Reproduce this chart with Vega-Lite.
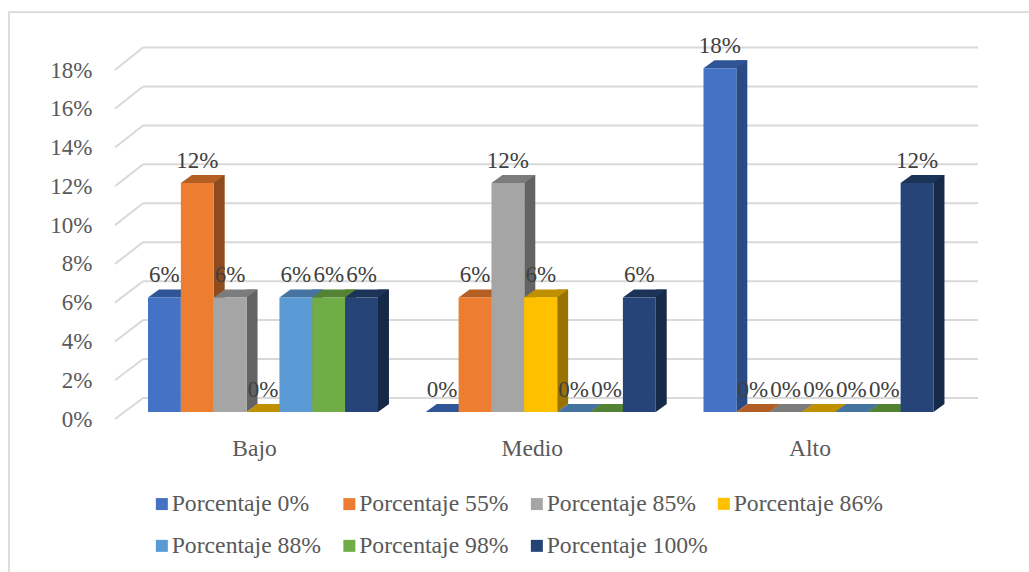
{
"$schema":"https://vega.github.io/schema/vega-lite/v6.json",
"autosize":{"type":"none"},
"padding":{"left":9,"top":12,"right":-5,"bottom":-5},
"width":1025,"height":565,
"background":"white",
"config":{"font":"Liberation Serif","view":{"stroke":"#D9D9D9","strokeWidth":1.75}},
"data":{"values":[
{"nivel":"Bajo","serie":"Porcentaje 0%","valor":0.0588},
{"nivel":"Bajo","serie":"Porcentaje 55%","valor":0.1176},
{"nivel":"Bajo","serie":"Porcentaje 85%","valor":0.0588},
{"nivel":"Bajo","serie":"Porcentaje 86%","valor":0},
{"nivel":"Bajo","serie":"Porcentaje 88%","valor":0.0588},
{"nivel":"Bajo","serie":"Porcentaje 98%","valor":0.0588},
{"nivel":"Bajo","serie":"Porcentaje 100%","valor":0.0588},
{"nivel":"Medio","serie":"Porcentaje 0%","valor":0},
{"nivel":"Medio","serie":"Porcentaje 55%","valor":0.0588},
{"nivel":"Medio","serie":"Porcentaje 85%","valor":0.1176},
{"nivel":"Medio","serie":"Porcentaje 86%","valor":0.0588},
{"nivel":"Medio","serie":"Porcentaje 88%","valor":0},
{"nivel":"Medio","serie":"Porcentaje 98%","valor":0},
{"nivel":"Medio","serie":"Porcentaje 100%","valor":0.0588},
{"nivel":"Alto","serie":"Porcentaje 0%","valor":0.1765},
{"nivel":"Alto","serie":"Porcentaje 55%","valor":0},
{"nivel":"Alto","serie":"Porcentaje 85%","valor":0},
{"nivel":"Alto","serie":"Porcentaje 86%","valor":0},
{"nivel":"Alto","serie":"Porcentaje 88%","valor":0},
{"nivel":"Alto","serie":"Porcentaje 98%","valor":0},
{"nivel":"Alto","serie":"Porcentaje 100%","valor":0.1176}
]},
"layer":[
{"data":{"values":[
{"nivel":0,"fondo":0.01083},{"nivel":0.02,"fondo":0.03091},{"nivel":0.04,"fondo":0.051},{"nivel":0.06,"fondo":0.07108},{"nivel":0.08,"fondo":0.09116},{"nivel":0.1,"fondo":0.11124},{"nivel":0.12,"fondo":0.13133},{"nivel":0.14,"fondo":0.15141},{"nivel":0.16,"fondo":0.17149},{"nivel":0.18,"fondo":0.19157}
]},
"layer":[
{"mark":{"type":"rule","color":"#D9D9D9","strokeWidth":2},
"encoding":{
"x":{"datum":-0.5329,"type":"quantitative","scale":{"domain":[-0.9145,2.7399],"range":[0,1015]},"axis":null},
"x2":{"datum":-0.432},
"y":{"field":"nivel","type":"quantitative","scale":{"domain":[0,0.18],"range":[407,58]},
"axis":{"title":null,"orient":"left","values":[0,0.02,0.04,0.06,0.08,0.1,0.12,0.14,0.16,0.18],"format":".0%","domain":false,"ticks":false,"grid":false,"offset":-83,"labelPadding":0,"labelFont":"Liberation Serif","labelFontSize":23,"labelColor":"#595959"}},
"y2":{"field":"fondo"}
}},
{"mark":{"type":"rule","color":"#D9D9D9","strokeWidth":2},
"encoding":{
"x":{"datum":-0.432,"type":"quantitative","scale":{"domain":[-0.9145,2.7399],"range":[0,1015]},"axis":null},
"x2":{"datum":2.5743},
"y":{"field":"fondo","type":"quantitative","scale":{"domain":[0,0.18],"range":[407,58]}}
}}
]},
{"layer":[
{"mark":{"type":"bar","width":11},
"encoding":{
"x":{"field":"nivel","type":"nominal","sort":["Bajo","Medio","Alto"],"scale":{"type":"band","domain":["Bajo","Medio","Alto"],"range":[139,924.5],"paddingInner":0.1719,"paddingOuter":0},
"axis":{"title":null,"orient":"bottom","offset":-141,"domain":false,"ticks":false,"grid":false,"labelAngle":0,"labelOffset":-8.5,"labelFont":"Liberation Serif","labelFontSize":23.5,"labelColor":"#595959","labelPadding":0}},
"xOffset":{"field":"serie","type":"nominal","sort":null,"scale":{"type":"band","domain":["Porcentaje 0%","Porcentaje 55%","Porcentaje 85%","Porcentaje 86%","Porcentaje 88%","Porcentaje 98%","Porcentaje 100%"],"range":[21.9,251.9],"paddingInner":0,"paddingOuter":0}},
"y":{"field":"valor","type":"quantitative","scale":{"domain":[0,0.18],"range":[392,41.5]},"axis":null},
"color":{"field":"serie","type":"nominal","legend":null,"scale":{"domain":["Porcentaje 0%","Porcentaje 55%","Porcentaje 85%","Porcentaje 86%","Porcentaje 88%","Porcentaje 98%","Porcentaje 100%"],"range":["#294A82","#8E4B1D","#636363","#997300","#37638A","#43682B","#172949"]}}
}},
{"mark":{"type":"point","filled":true,"opacity":1,"size":4,"strokeWidth":0,"shape":"M16.43 0 L16.43 -8 L27.43 -8 Z"},
"encoding":{
"x":{"field":"nivel","type":"nominal","sort":["Bajo","Medio","Alto"]},
"xOffset":{"field":"serie","type":"nominal","sort":null,"scale":{"type":"band","domain":["Porcentaje 0%","Porcentaje 55%","Porcentaje 85%","Porcentaje 86%","Porcentaje 88%","Porcentaje 98%","Porcentaje 100%"],"range":[0,230],"paddingInner":0,"paddingOuter":0}},
"y":{"datum":0,"type":"quantitative","scale":{"domain":[0,0.18],"range":[400,49.5]},"axis":null},
"color":{"field":"serie","type":"nominal","legend":null,"scale":{"domain":["Porcentaje 0%","Porcentaje 55%","Porcentaje 85%","Porcentaje 86%","Porcentaje 88%","Porcentaje 98%","Porcentaje 100%"],"range":["#294A82","#8E4B1D","#636363","#997300","#37638A","#43682B","#172949"]}}
}},
{"mark":{"type":"point","filled":true,"opacity":1,"size":4,"strokeWidth":0,"shape":"M-16.43 0 L-5.43 -8 L27.43 -8 L16.43 0 Z"},
"encoding":{
"x":{"field":"nivel","type":"nominal","sort":["Bajo","Medio","Alto"]},
"xOffset":{"field":"serie","type":"nominal","sort":null,"scale":{"type":"band","domain":["Porcentaje 0%","Porcentaje 55%","Porcentaje 85%","Porcentaje 86%","Porcentaje 88%","Porcentaje 98%","Porcentaje 100%"],"range":[0,230],"paddingInner":0,"paddingOuter":0}},
"y":{"field":"valor","type":"quantitative","scale":{"domain":[0,0.18],"range":[400,49.5]},"axis":null},
"color":{"field":"serie","type":"nominal","legend":null,"scale":{"domain":["Porcentaje 0%","Porcentaje 55%","Porcentaje 85%","Porcentaje 86%","Porcentaje 88%","Porcentaje 98%","Porcentaje 100%"],"range":["#2F5597","#B35E24","#7C7C7C","#BF9000","#44749F","#548235","#1C3358"]}}
}},
{"mark":{"type":"bar"},
"encoding":{
"x":{"field":"nivel","type":"nominal","sort":["Bajo","Medio","Alto"]},
"xOffset":{"field":"serie","type":"nominal","sort":null,"scale":{"type":"band","domain":["Porcentaje 0%","Porcentaje 55%","Porcentaje 85%","Porcentaje 86%","Porcentaje 88%","Porcentaje 98%","Porcentaje 100%"],"range":[0,230],"paddingInner":0,"paddingOuter":0}},
"y":{"field":"valor","type":"quantitative","scale":{"domain":[0,0.18],"range":[400,49.5]},"axis":null},
"color":{"field":"serie","type":"nominal","title":null,"scale":{"domain":["Porcentaje 0%","Porcentaje 55%","Porcentaje 85%","Porcentaje 86%","Porcentaje 88%","Porcentaje 98%","Porcentaje 100%"],"range":["#4472C4","#ED7D31","#A5A5A5","#FFC000","#5B9BD5","#70AD47","#264478"]},
"legend":{"orient":"none","legendX":141,"legendY":480,"columns":3,"direction":"horizontal","values":["Porcentaje 0%","Porcentaje 55%","Porcentaje 85%","Porcentaje 88%","Porcentaje 98%","Porcentaje 100%"],"symbolType":"square","symbolSize":144,"symbolStrokeWidth":0,"labelOffset":-2,"labelFont":"Liberation Serif","labelFontSize":23.7,"labelColor":"#595959","labelLimit":300,"columnPadding":4.5,"rowPadding":17,"gridAlign":"all","padding":0}}
}},
{"transform":[{"filter":"datum.serie === 'Porcentaje 86%'"}],
"mark":{"type":"bar"},
"encoding":{
"x":{"field":"nivel","type":"nominal","sort":["Bajo","Medio","Alto"]},
"xOffset":{"field":"serie","type":"nominal","sort":null,"scale":{"type":"band","domain":["Porcentaje 0%","Porcentaje 55%","Porcentaje 85%","Porcentaje 86%","Porcentaje 88%","Porcentaje 98%","Porcentaje 100%"],"range":[0,230],"paddingInner":0,"paddingOuter":0}},
"y":{"field":"valor","type":"quantitative","scale":{"domain":[0,0.18],"range":[400,49.5]},"axis":null},
"color":{"field":"serie","type":"nominal","title":null,"scale":{"domain":["Porcentaje 0%","Porcentaje 55%","Porcentaje 85%","Porcentaje 86%","Porcentaje 88%","Porcentaje 98%","Porcentaje 100%"],"range":["#4472C4","#ED7D31","#A5A5A5","#FFC000","#5B9BD5","#70AD47","#264478"]},
"legend":{"orient":"none","legendX":703,"legendY":480,"values":["Porcentaje 86%"],"symbolType":"square","symbolSize":144,"symbolStrokeWidth":0,"labelOffset":-2,"labelFont":"Liberation Serif","labelFontSize":23.7,"labelColor":"#595959","labelLimit":300,"padding":0}}
}},
{"mark":{"type":"text","font":"Liberation Serif","fontSize":23,"color":"#404040","dy":-22.5,"baseline":"middle"},
"encoding":{
"x":{"field":"nivel","type":"nominal","sort":["Bajo","Medio","Alto"]},
"xOffset":{"field":"serie","type":"nominal","sort":null,"scale":{"type":"band","domain":["Porcentaje 0%","Porcentaje 55%","Porcentaje 85%","Porcentaje 86%","Porcentaje 88%","Porcentaje 98%","Porcentaje 100%"],"range":[0,230],"paddingInner":0,"paddingOuter":0}},
"y":{"field":"valor","type":"quantitative","scale":{"domain":[0,0.18],"range":[400,49.5]},"axis":null},
"text":{"field":"valor","type":"quantitative","format":".0%"}
}}
],"resolve":{"scale":{"color":"independent","y":"independent","xOffset":"independent"}}}
],
"resolve":{"scale":{"x":"independent","y":"independent"},"axis":{"x":"independent","y":"independent"}}
}
